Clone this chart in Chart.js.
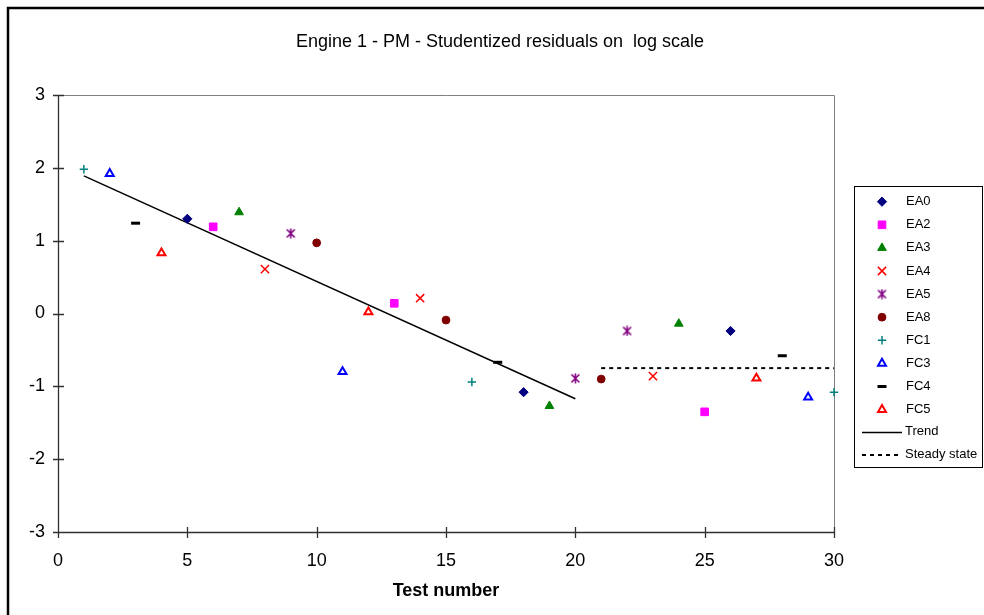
<!DOCTYPE html>
<html><head><meta charset="utf-8">
<script src="https://cdn.jsdelivr.net/npm/chart.js@4.4.0/dist/chart.umd.min.js"></script>
<style>html,body{margin:0;padding:0;background:#fff;}#wrap{width:984px;height:615px;position:relative;overflow:hidden;}</style>
</head><body><div id="wrap"><canvas id="c" width="984" height="615"></canvas></div>
<script>
const chartTitle = 'Engine 1 - PM - Studentized residuals on  log scale';
const xAxisTitle = 'Test number';
const xTicks = [0, 5, 10, 15, 20, 25, 30];
const yTicks = [-3, -2, -1, 0, 1, 2, 3];
const seriesNames = ['EA0', 'EA2', 'EA3', 'EA4', 'EA5', 'EA8', 'FC1', 'FC3', 'FC4', 'FC5'];
const ea0Tests = [5, 18, 26];  const ea0Values = [1.30, -1.08, -0.24];
const ea2Tests = [6, 13, 25];  const ea2Values = [1.19, 0.14, -1.35];
const ea3Tests = [7, 19, 24];  const ea3Values = [1.39, -1.27, -0.14];
const ea4Tests = [8, 14, 23];  const ea4Values = [0.61, 0.21, -0.86];
const ea5Tests = [9, 20, 22];  const ea5Values = [1.10, -0.89, -0.24];
const ea8Tests = [10, 15, 21]; const ea8Values = [0.97, -0.09, -0.90];
const fc1Tests = [1, 16, 30];  const fc1Values = [1.98, -0.94, -1.08];
const fc3Tests = [2, 11, 29];  const fc3Values = [1.92, -0.80, -1.15];
const fc4Tests = [3, 17, 28];  const fc4Values = [1.24, -0.67, -0.58];
const fc5Tests = [4, 12, 27];  const fc5Values = [0.83, 0.02, -0.89];
const trendTests = [1, 20];    const trendValues = [1.89, -1.17];
const steadyTests = [21, 30];  const steadyValues = [-0.75, -0.75];

const FONT = "'Liberation Sans', Arial, sans-serif";

function pts(xs, ys) { return xs.map((x, i) => ({ x: x, y: ys[i] })); }

function makeAsterisk(color) {
  const c = document.createElement('canvas');
  c.width = 11; c.height = 11;
  const g = c.getContext('2d');
  g.strokeStyle = color; g.lineWidth = 1.6;
  g.beginPath();
  g.moveTo(1.5, 1.5); g.lineTo(9.5, 9.5);
  g.moveTo(9.5, 1.5); g.lineTo(1.5, 9.5);
  g.moveTo(5.5, 0.5); g.lineTo(5.5, 10.5);
  g.stroke();
  return c;
}

function marker(label, xs, ys, style, radius, fill, stroke, bw) {
  return {
    label: label, data: pts(xs, ys), showLine: false, clip: false,
    pointStyle: style, pointRadius: radius, pointHoverRadius: radius,
    pointBackgroundColor: fill, pointBorderColor: stroke, pointBorderWidth: bw,
    backgroundColor: fill, borderColor: stroke
  };
}

const datasets = [
  marker(seriesNames[0], ea0Tests, ea0Values, 'rectRot', 4.6, '#000080', '#000080', 1),
  marker(seriesNames[1], ea2Tests, ea2Values, 'rect', 5.4, '#FF00FF', '#FF00FF', 1),
  marker(seriesNames[2], ea3Tests, ea3Values, 'triangle', 5, '#008000', '#008000', 1),
  marker(seriesNames[3], ea4Tests, ea4Values, 'crossRot', 5.8, '#FF0000', '#FF0000', 1.5),
  marker(seriesNames[4], ea5Tests, ea5Values, makeAsterisk('#800080'), 5, '#800080', '#800080', 1.5),
  marker(seriesNames[5], ea8Tests, ea8Values, 'circle', 3.9, '#800000', '#800000', 1),
  marker(seriesNames[6], fc1Tests, fc1Values, 'cross', 4.2, '#008080', '#008080', 1.5),
  marker(seriesNames[7], fc3Tests, fc3Values, 'triangle', 4.6, '#FFFFFF', '#0000FF', 2),
  marker(seriesNames[8], fc4Tests, fc4Values, 'line', 4.5, '#000000', '#000000', 3),
  marker(seriesNames[9], fc5Tests, fc5Values, 'triangle', 4.6, '#FFFFFF', '#FF0000', 2),
  { label: 'Trend', data: pts(trendTests, trendValues), showLine: true, pointRadius: 0,
    borderColor: '#000000', borderWidth: 1.5, clip: false, legendLine: [] },
  { label: 'Steady state', data: pts(steadyTests, steadyValues), showLine: true, pointRadius: 0,
    borderColor: '#000000', borderWidth: 2, borderDash: [4, 4], clip: false, legendLine: [4, 4] }
];

const decorPlugin = {
  id: 'decor',
  beforeDraw(chart) {
    const ctx = chart.ctx;
    ctx.save();
    ctx.fillStyle = '#FFFFFF';
    ctx.fillRect(0, 0, chart.width, chart.height);
    ctx.restore();
  },
  beforeDatasetsDraw(chart) {
    const ctx = chart.ctx, a = chart.chartArea;
    const xs = chart.scales.x, ys = chart.scales.y;
    ctx.save();
    ctx.strokeStyle = '#808080'; ctx.lineWidth = 1;
    ctx.beginPath();
    ctx.moveTo(a.left, a.top + 0.5); ctx.lineTo(a.right + 0.5, a.top + 0.5);
    ctx.lineTo(a.right + 0.5, a.bottom);
    ctx.stroke();
    ctx.strokeStyle = '#303030'; ctx.lineWidth = 1.3;
    ctx.beginPath();
    ctx.moveTo(a.left + 0.5, a.top); ctx.lineTo(a.left + 0.5, a.bottom + 0.5);
    ctx.lineTo(a.right + 0.5, a.bottom + 0.5);
    yTicks.forEach(v => {
      const p = Math.round(ys.getPixelForValue(v)) + 0.5;
      ctx.moveTo(a.left - 5, p); ctx.lineTo(a.left + 6, p);
    });
    xTicks.forEach(v => {
      const p = Math.round(xs.getPixelForValue(v)) + 0.5;
      ctx.moveTo(p, a.bottom - 5); ctx.lineTo(p, a.bottom + 6);
    });
    ctx.stroke();
    ctx.restore();
  },
  afterDraw(chart) {
    const ctx = chart.ctx;
    ctx.save();
    // outer frame
    ctx.strokeStyle = '#000000'; ctx.lineWidth = 2.5;
    ctx.beginPath();
    ctx.moveTo(8, chart.height + 5); ctx.lineTo(8, 8); ctx.lineTo(chart.width + 5, 8);
    ctx.stroke();
    // title
    ctx.fillStyle = '#000000';
    ctx.font = '18px ' + FONT;
    ctx.textAlign = 'center'; ctx.textBaseline = 'middle';
    ctx.fillText(chartTitle, 500, 42);
    // legend
    ctx.lineWidth = 1; ctx.strokeStyle = '#000000';
    ctx.strokeRect(854.5, 186.5, 128, 281);
    ctx.font = '13px ' + FONT;
    ctx.textAlign = 'left';
    chart.data.datasets.forEach((ds, i) => {
      const y = 201.7 + i * 23.1 - (i >= 10 ? 1 : 0);
      ctx.save();
      if (ds.showLine) {
        const ly = Math.round(y) + (ds.borderWidth === 2 ? 0 : 0.5);
        ctx.strokeStyle = ds.borderColor; ctx.lineWidth = ds.borderWidth;
        ctx.setLineDash(ds.legendLine);
        ctx.beginPath(); ctx.moveTo(862, ly); ctx.lineTo(902, ly); ctx.stroke();
        ctx.fillStyle = '#000'; ctx.fillText(ds.label, 905, y);
      } else {
        ctx.fillStyle = ds.pointBackgroundColor; ctx.strokeStyle = ds.pointBorderColor;
        ctx.lineWidth = ds.pointBorderWidth;
        Chart.helpers.drawPoint(ctx, { pointStyle: ds.pointStyle, radius: ds.pointRadius, rotation: 0, borderWidth: ds.pointBorderWidth }, 882, y);
        ctx.fillStyle = '#000'; ctx.fillText(ds.label, 906, y);
      }
      ctx.restore();
    });
    ctx.restore();
  }
};

new Chart(document.getElementById('c'), {
  type: 'scatter',
  data: { datasets: datasets },
  plugins: [decorPlugin],
  options: {
    responsive: false, animation: false, devicePixelRatio: 1,
    layout: { padding: { top: 95, right: 150, bottom: 0, left: 0 } },
    plugins: { legend: { display: false }, title: { display: false }, tooltip: { enabled: false } },
    scales: {
      x: {
        type: 'linear', min: 0, max: 30,
        afterFit: s => { s.height = 83; },
        afterBuildTicks: s => { s.ticks = xTicks.map(v => ({ value: v })); },
        grid: { display: false },
        border: { display: false },
        ticks: { padding: 10, color: '#000', font: { family: FONT, size: 18 }, maxRotation: 0, autoSkip: false },
        title: { display: true, text: xAxisTitle, color: '#000', font: { family: FONT, size: 18, weight: 'bold' }, padding: { top: 0, bottom: 13 } }
      },
      y: {
        type: 'linear', min: -3, max: 3,
        afterFit: s => { s.width = 58; },
        afterBuildTicks: s => { s.ticks = yTicks.map(v => ({ value: v })); },
        grid: { display: false },
        border: { display: false },
        ticks: { padding: 5, color: '#000', font: { family: FONT, size: 18 }, autoSkip: false }
      }
    }
  }
});
</script>
</body></html>
